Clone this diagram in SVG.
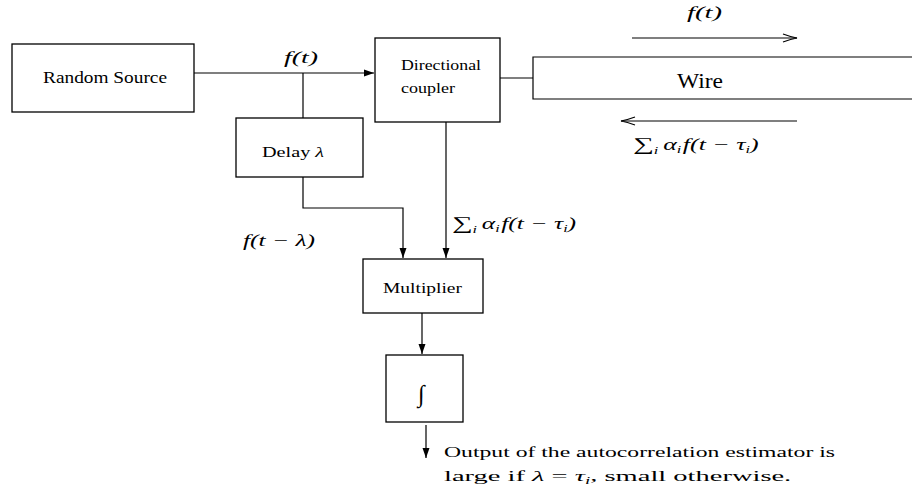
<svg xmlns="http://www.w3.org/2000/svg" width="912" height="493" viewBox="0 0 912 493">
<defs>
<style>
.box{fill:#fff;stroke:#000;stroke-width:1.3}
.ln{fill:none;stroke:#000;stroke-width:1.2}
.t{font-family:"Liberation Serif","Times New Roman",serif;fill:#000}
.m{font-family:"Liberation Serif","Times New Roman",serif;font-style:italic;fill:#000}
</style>
<marker id="ah" viewBox="0 0 10 12" refX="10" refY="6" markerWidth="10" markerHeight="12" markerUnits="userSpaceOnUse" orient="auto">
<path d="M0,2.5 L10,6 L0,9.5 Z" fill="#000"/>
</marker>
<marker id="oh" viewBox="0 0 16 10" refX="15" refY="5" markerWidth="16" markerHeight="10" markerUnits="userSpaceOnUse" orient="auto">
<path d="M1,1 Q9,4 15,5 Q9,6 1,9" fill="none" stroke="#000" stroke-width="1.2"/>
</marker>
</defs>
<rect width="912" height="493" fill="#fff"/>

<g id="connectors">
<line class="ln" x1="194" y1="73" x2="374" y2="73" marker-end="url(#ah)"/>
<line class="ln" x1="303" y1="73" x2="303" y2="118"/>
<line class="ln" x1="500" y1="78" x2="533" y2="78"/>
<polyline class="ln" points="303,177 303,208 403,208 403,258" marker-end="url(#ah)"/>
<line class="ln" x1="446" y1="122" x2="446" y2="258" marker-end="url(#ah)"/>
<line class="ln" x1="422" y1="313" x2="422" y2="354" marker-end="url(#ah)"/>
<line class="ln" x1="426" y1="425" x2="426" y2="458" marker-end="url(#ah)"/>
<line class="ln" x1="632" y1="38" x2="797" y2="38" marker-end="url(#oh)"/>
<line class="ln" x1="797" y1="121" x2="621" y2="121" marker-end="url(#oh)"/>
</g>

<g id="random-source">
<rect class="box" x="12" y="44" width="182" height="68"/>
<text class="t" x="43" y="83" font-size="16" textLength="124" lengthAdjust="spacingAndGlyphs">Random Source</text>
</g>

<g id="directional-coupler">
<rect class="box" x="375" y="38" width="125" height="84"/>
<text class="t" x="401" y="70" font-size="14" textLength="80" lengthAdjust="spacingAndGlyphs">Directional</text>
<text class="t" x="401" y="93" font-size="14" textLength="54" lengthAdjust="spacingAndGlyphs">coupler</text>
</g>

<g id="wire">
<path class="ln" d="M914,57 L533,57 L533,99 L914,99" fill="#fff"/>
<text class="t" x="677" y="88" font-size="21" textLength="46" lengthAdjust="spacingAndGlyphs">Wire</text>
</g>

<g id="delay">
<rect class="box" x="236" y="118" width="127" height="59"/>
<text class="t" transform="translate(262,157) scale(1.35,1)" x="0" y="0" font-size="15">Delay <tspan font-style="italic">λ</tspan></text>
</g>

<g id="multiplier">
<rect class="box" x="363" y="259" width="120" height="54"/>
<text class="t" x="383" y="293" font-size="15" textLength="79" lengthAdjust="spacingAndGlyphs">Multiplier</text>
</g>

<g id="integrator">
<rect class="box" x="386" y="355" width="77" height="67"/>
<text class="m" x="418" y="402" font-size="24">∫</text>
</g>

<g id="labels">
<text class="m" x="284" y="63" font-size="16" textLength="34" lengthAdjust="spacingAndGlyphs">f(t)</text>
<text class="m" x="687" y="18" font-size="16" textLength="35" lengthAdjust="spacingAndGlyphs">f(t)</text>
<text class="m" transform="translate(633,150) scale(1.62,1)" x="0" y="0" font-size="16"><tspan font-style="normal" font-size="18">∑</tspan><tspan font-size="10" dy="4">i</tspan><tspan dy="-4" dx="3">α</tspan><tspan font-size="10" dy="3">i</tspan><tspan dy="-3" dx="1">f(t − τ</tspan><tspan font-size="10" dy="3">i</tspan><tspan dy="-3">)</tspan></text>
<text class="m" transform="translate(452,229) scale(1.6,1)" x="0" y="0" font-size="16"><tspan font-style="normal" font-size="18">∑</tspan><tspan font-size="10" dy="4">i</tspan><tspan dy="-4" dx="3">α</tspan><tspan font-size="10" dy="3">i</tspan><tspan dy="-3" dx="1">f(t − τ</tspan><tspan font-size="10" dy="3">i</tspan><tspan dy="-3">)</tspan></text>
<text class="m" x="243" y="246" font-size="16" textLength="72" lengthAdjust="spacingAndGlyphs">f(t − λ)</text>
<text class="t" x="444" y="457" font-size="15" textLength="391" lengthAdjust="spacingAndGlyphs">Output of the autocorrelation estimator is</text>
<text class="t" transform="translate(444,481) scale(1.9,1)" x="0" y="0" font-size="15">large if <tspan font-style="italic">λ</tspan> = <tspan font-style="italic">τ</tspan><tspan font-style="italic" font-size="10" dy="3">i</tspan><tspan dy="-3">, small otherwise.</tspan></text>
</g>
</svg>
